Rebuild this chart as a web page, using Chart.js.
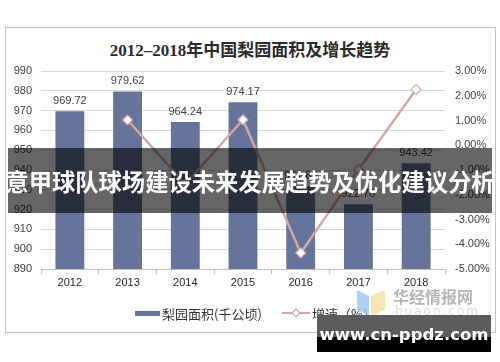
<!DOCTYPE html>
<html><head><meta charset="utf-8">
<script src="https://cdn.jsdelivr.net/npm/chart.js@4/dist/chart.umd.min.js"></script>
<style>
html,body{margin:0;padding:0;background:#fff;}
#wrap{position:relative;width:500px;height:362px;overflow:hidden;font-family:"Liberation Sans",Arial,sans-serif;}
#frame{position:absolute;left:5px;top:27px;width:489px;height:304px;border:1px solid #c4c4c4;}
#title{position:absolute;left:0;top:36px;width:500px;text-align:center;font:bold 17px "Liberation Serif","Noto Sans CJK SC",serif;color:#2b2b2b;}
canvas{position:absolute;left:0;top:0;}
#legend{position:absolute;top:305px;left:0;width:500px;height:16px;font:13px "Noto Sans CJK SC",sans-serif;color:#333;}
.lg{position:absolute;top:0;display:flex;align-items:center;height:16px;}
#banner{position:absolute;left:8px;top:148px;width:484px;height:65px;background:rgba(0,0,0,0.6);}
#btext{position:absolute;left:0;top:165px;width:500px;text-align:center;font:bold 23.3px "Noto Sans CJK SC",sans-serif;color:#fff;white-space:nowrap;line-height:32px;}
#wm{position:absolute;left:355px;top:284px;width:130px;height:40px;}
#site{position:absolute;left:317px;top:315px;width:174px;height:37px;background:#000;}
#site .g{position:absolute;left:0;top:0;width:174px;height:22px;background:#5c5c5c;}
#site .t{position:absolute;left:0;top:9px;width:174px;text-align:center;font:bold 16.5px "DejaVu Sans",sans-serif;color:#fff;line-height:22px;white-space:nowrap;}
</style></head>
<body><div id="wrap">
<div id="frame"></div>
<div id="title">2012–2018年中国梨园面积及增长趋势</div>
<canvas id="c" width="500" height="362"></canvas>
<div id="legend">
 <div class="lg" style="left:135px;"><span style="display:inline-block;width:25px;height:5px;background:#66739a;margin-right:2px;"></span>梨园面积(千公顷)</div>
 <div class="lg" style="left:282px;"><svg width="28" height="10" style="margin-right:2px"><line x1="0" y1="5" x2="28" y2="5" stroke="#d4a9a4" stroke-width="2"/><path d="M14 1 L18 5 L14 9 L10 5 Z" fill="#fff" stroke="#d4a9a4" stroke-width="1.2"/></svg>增速（%）</div>
</div>
<div id="banner"></div>
<div id="btext">意甲球队球场建设未来发展趋势及优化建议分析</div>
<div id="wm">
 <svg width="32" height="32" style="position:absolute;left:0;top:2px"><path d="M2 4 L14 10 L14 30 L2 24 Z" fill="#9ec3f0" opacity="0.8"/><path d="M16 10 L30 4 L30 24 L16 30 Z" fill="#f7e19a" opacity="0.8"/></svg>
 <div style="position:absolute;left:38px;top:0;font:bold 16px 'Noto Sans CJK SC',sans-serif;color:#b5b5b5;">华经情报网</div>
 <div style="position:absolute;left:40px;top:20px;font:12px 'DejaVu Sans',sans-serif;color:#dcdcdc;letter-spacing:2px;">huaon.com</div>
</div>
<div id="site"><div class="g"></div><div class="t">www.cn-ppdz.com</div></div>
</div>
<script>
const years = ["2012","2013","2014","2015","2016","2017","2018"];
const areaValues = [969.72, 979.62, 964.24, 974.17, 931.83, 922.70, 943.42];
const areaLabels = ["969.72","979.62","964.24","974.17","931.83","922.70","943.42"];
const growthRates = [null, 1.02, -1.57, 1.03, -4.35, -0.98, 2.25];
const leftTicks = [890, 900, 910, 920, 930, 940, 950, 960, 970, 980, 990];
const rightTicks = [-5, -4, -3, -2, -1, 0, 1, 2, 3];

const barLabelPlugin = {
  id: 'barLabels',
  afterDatasetsDraw(chart) {
    const ctx = chart.ctx;
    const meta = chart.getDatasetMeta(1);
    ctx.save();
    ctx.font = '11px "Liberation Sans", Arial, sans-serif';
    ctx.fillStyle = '#404040';
    ctx.textAlign = 'center';
    ctx.textBaseline = 'bottom';
    meta.data.forEach((bar, i) => {
      ctx.fillText(areaLabels[i], bar.x, bar.y - 5);
    });
    ctx.restore();
  }
};

new Chart(document.getElementById('c'), {
  data: {
    labels: years,
    datasets: [
      {
        type: 'line', label: '增速（%）', data: growthRates, yAxisID: 'y1',
        borderColor: '#d4a9a4', borderWidth: 2.5, pointStyle: 'rectRot', pointRadius: 5,
        pointBackgroundColor: '#fff', pointBorderColor: '#d4a9a4', pointBorderWidth: 1.2,
        tension: 0, spanGaps: false, order: 0
      },
      {
        type: 'bar', label: '梨园面积(千公顷)', data: areaValues, yAxisID: 'y',
        backgroundColor: '#66739a', barPercentage: 0.5, categoryPercentage: 1, order: 1
      }
    ]
  },
  options: {
    responsive: false, animation: false, devicePixelRatio: 1,
    layout: { padding: { left: 5, right: 5, top: 71, bottom: 69 } },
    plugins: { legend: { display: false }, tooltip: { enabled: false }, title: { display: false } },
    scales: {
      x: {
        grid: { display: true, drawOnChartArea: false, offset: true, tickLength: 5, color: '#bfbfbf' },
        border: { color: '#bfbfbf' },
        ticks: { color: '#262626', font: { size: 11, family: '"Liberation Sans", Arial, sans-serif' }, padding: 2 },
        afterFit: s => { s.height = 24; }
      },
      y: {
        position: 'left', min: 890, max: 990,
        afterBuildTicks: s => { s.ticks = leftTicks.map(v => ({ value: v })); },
        grid: { color: '#d9d9d9', drawTicks: false },
        border: { display: false },
        ticks: { color: '#404040', font: { size: 11, family: '"Liberation Sans", Arial, sans-serif' }, padding: 9 },
        afterFit: s => { s.width = 36; }
      },
      y1: {
        position: 'right', min: -5, max: 3,
        afterBuildTicks: s => { s.ticks = rightTicks.map(v => ({ value: v })); },
        grid: { drawOnChartArea: false, drawTicks: false },
        border: { display: false },
        ticks: { color: '#404040', font: { size: 11, family: '"Liberation Sans", Arial, sans-serif' }, padding: 10,
          callback: v => v.toFixed(2) + '%' },
        afterFit: s => { s.width = 50; }
      }
    }
  },
  plugins: [barLabelPlugin]
});
</script>
</body></html>
